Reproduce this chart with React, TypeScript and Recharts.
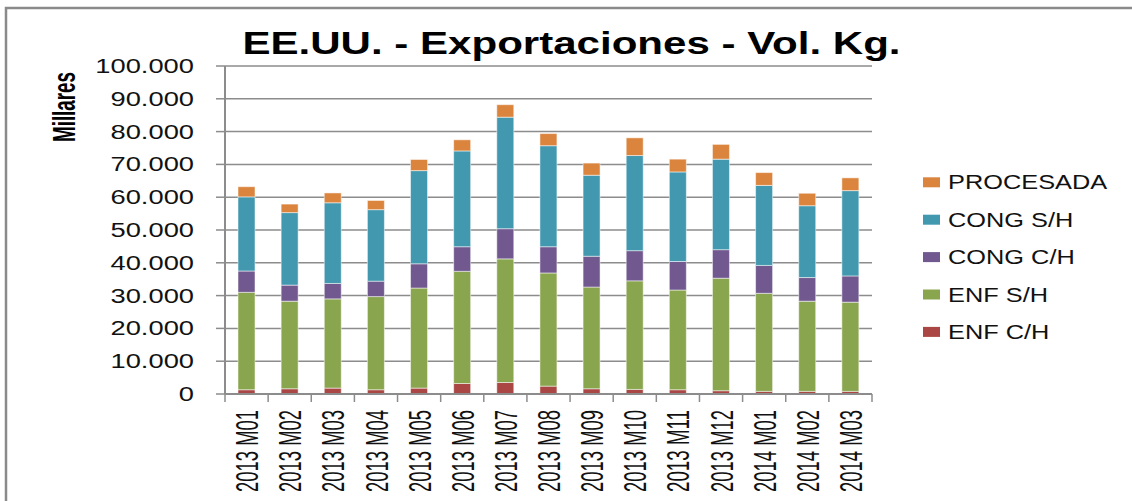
import { BarChart, Bar, XAxis, YAxis, CartesianGrid, Legend } from "recharts"

const months = [
  "2013 M01", "2013 M02", "2013 M03", "2013 M04", "2013 M05", "2013 M06", "2013 M07", "2013 M08",
  "2013 M09", "2013 M10", "2013 M11", "2013 M12", "2014 M01", "2014 M02", "2014 M03",
]
const enfCH = [1300, 1600, 1800, 1300, 1800, 3200, 3500, 2400, 1600, 1400, 1300, 1000, 800, 800, 800]
const enfSH = [29700, 26700, 27200, 28400, 30500, 34200, 37700, 34500, 31000, 33100, 30400, 34300, 29900, 27500, 27200]
const congCH = [6500, 4900, 4700, 4700, 7400, 7500, 9200, 8000, 9400, 9200, 8700, 8700, 8500, 7200, 8000]
const congSH = [22600, 22100, 24600, 21800, 28400, 29200, 34000, 30800, 24700, 29000, 27300, 27600, 24400, 21900, 26000]
const procesada = [3100, 2600, 3000, 2800, 3400, 3400, 3800, 3700, 3700, 5400, 3900, 4500, 3900, 3800, 3900]
const yTicks = [0, 10000, 20000, 30000, 40000, 50000, 60000, 70000, 80000, 90000, 100000]

const data = months.map((month, i) => ({
  month,
  enfCH: enfCH[i],
  enfSH: enfSH[i],
  congCH: congCH[i],
  congSH: congSH[i],
  procesada: procesada[i],
}))

const series = [
  { key: "enfCH", name: "ENF C/H", color: "#AA4643" },
  { key: "enfSH", name: "ENF S/H", color: "#89A54E" },
  { key: "congCH", name: "CONG C/H", color: "#71588F" },
  { key: "congSH", name: "CONG S/H", color: "#4198AF" },
  { key: "procesada", name: "PROCESADA", color: "#DB843D" },
]

const W = 1132
const H = 501
const PLOT_LEFT = 225
const PLOT_RIGHT = 872
const PLOT_TOP = 66
const PLOT_BOTTOM = 394
const band = (PLOT_RIGHT - PLOT_LEFT) / months.length
const GRID = "#8c8c8c"
const SANS = "'Liberation Sans', Arial, sans-serif"

const fmt = (v: number) => String(v).replace(/\B(?=(\d{3})+(?!\d))/g, ".")

function YTick({ x, y, payload }: any) {
  return (
    <g transform={`translate(${x},${y}) scale(1.4,1)`}>
      <text textAnchor="end" dy={7} fontSize={19.5} fill="#111" fontFamily={SANS}>
        {fmt(payload.value)}
      </text>
    </g>
  )
}

function XTick({ x, payload, index }: any) {
  const half = band / 2
  return (
    <g>
      <line x1={x - half} x2={x - half} y1={PLOT_BOTTOM} y2={PLOT_BOTTOM + 8} stroke={GRID} strokeWidth={1.5} />
      {index === months.length - 1 && (
        <line x1={x + half} x2={x + half} y1={PLOT_BOTTOM} y2={PLOT_BOTTOM + 8} stroke={GRID} strokeWidth={1.5} />
      )}
      <g transform={`translate(${x},${PLOT_BOTTOM + 16}) scale(1.43,1) rotate(-90)`}>
        <text
          textAnchor="end"
          dy="0.36em"
          fontSize={22.5}
          fill="#111"
          fontFamily={SANS}
          textLength={82}
          lengthAdjust="spacingAndGlyphs"
        >
          {payload.value}
        </text>
      </g>
    </g>
  )
}

function LegendBox() {
  const rows = [...series].reverse()
  return (
    <svg width={217} height={190}>
      {rows.map((s, i) => {
        const cy = 22.3 + i * 37.4
        return (
          <g key={s.key}>
            <rect x={8} y={cy - 5} width={17} height={10} fill={s.color} />
            <g transform={`translate(33,${cy}) scale(1.3,1)`}>
              <text dy={7} fontSize={19.5} fill="#111" fontFamily={SANS}>
                {s.name}
              </text>
            </g>
          </g>
        )
      })}
    </svg>
  )
}

export default function App() {
  return (
    <div style={{ position: "absolute", left: 0, top: 0, width: W, height: H, overflow: "hidden", background: "#fff" }}>
      <BarChart
        width={W}
        height={H}
        data={data}
        margin={{ top: PLOT_TOP, right: W - PLOT_RIGHT, bottom: 0, left: 0 }}
        barSize={17}
      >
        <CartesianGrid vertical={false} stroke={GRID} strokeWidth={1.5} />
        <XAxis
          dataKey="month"
          height={H - PLOT_BOTTOM}
          interval={0}
          tickLine={false}
          axisLine={{ stroke: GRID, strokeWidth: 2 }}
          tick={<XTick />}
        />
        <YAxis
          width={PLOT_LEFT}
          domain={[0, 100000]}
          ticks={yTicks}
          interval={0}
          tickSize={9}
          tickMargin={22}
          tickLine={{ stroke: GRID, strokeWidth: 1.5 }}
          axisLine={{ stroke: GRID, strokeWidth: 2 }}
          tick={<YTick />}
        />
        <Legend
          layout="vertical"
          align="center"
          verticalAlign="middle"
          wrapperStyle={{ left: 915, top: 160, width: 217 }}
          content={() => <LegendBox />}
        />
        {series.map((s) => (
          <Bar
            key={s.key}
            dataKey={s.key}
            name={s.name}
            stackId="a"
            fill={s.color}
            stroke="#ffffff"
            strokeOpacity={0.5}
            strokeWidth={1}
            isAnimationActive={false}
          />
        ))}
      </BarChart>
      <svg width={W} height={H} style={{ position: "absolute", left: 0, top: 0, pointerEvents: "none" }}>
        <path d={`M6,${H + 10} L6,8 L${W + 10},8`} fill="none" stroke="#8a8a8a" strokeWidth={2.5} />
        <g transform="translate(571.5,54) scale(1.37,1)">
          <text textAnchor="middle" fontSize={30.7} fontWeight="bold" fill="#000" fontFamily={SANS}>
            EE.UU. - Exportaciones - Vol. Kg.
          </text>
        </g>
        <g transform="translate(63.5,107) scale(1.37,1) rotate(-90)">
          <text
            textAnchor="middle"
            dy="0.36em"
            fontSize={23}
            fontWeight="bold"
            fill="#000"
            fontFamily={SANS}
            textLength={70}
            lengthAdjust="spacingAndGlyphs"
          >
            Millares
          </text>
        </g>
      </svg>
    </div>
  )
}
